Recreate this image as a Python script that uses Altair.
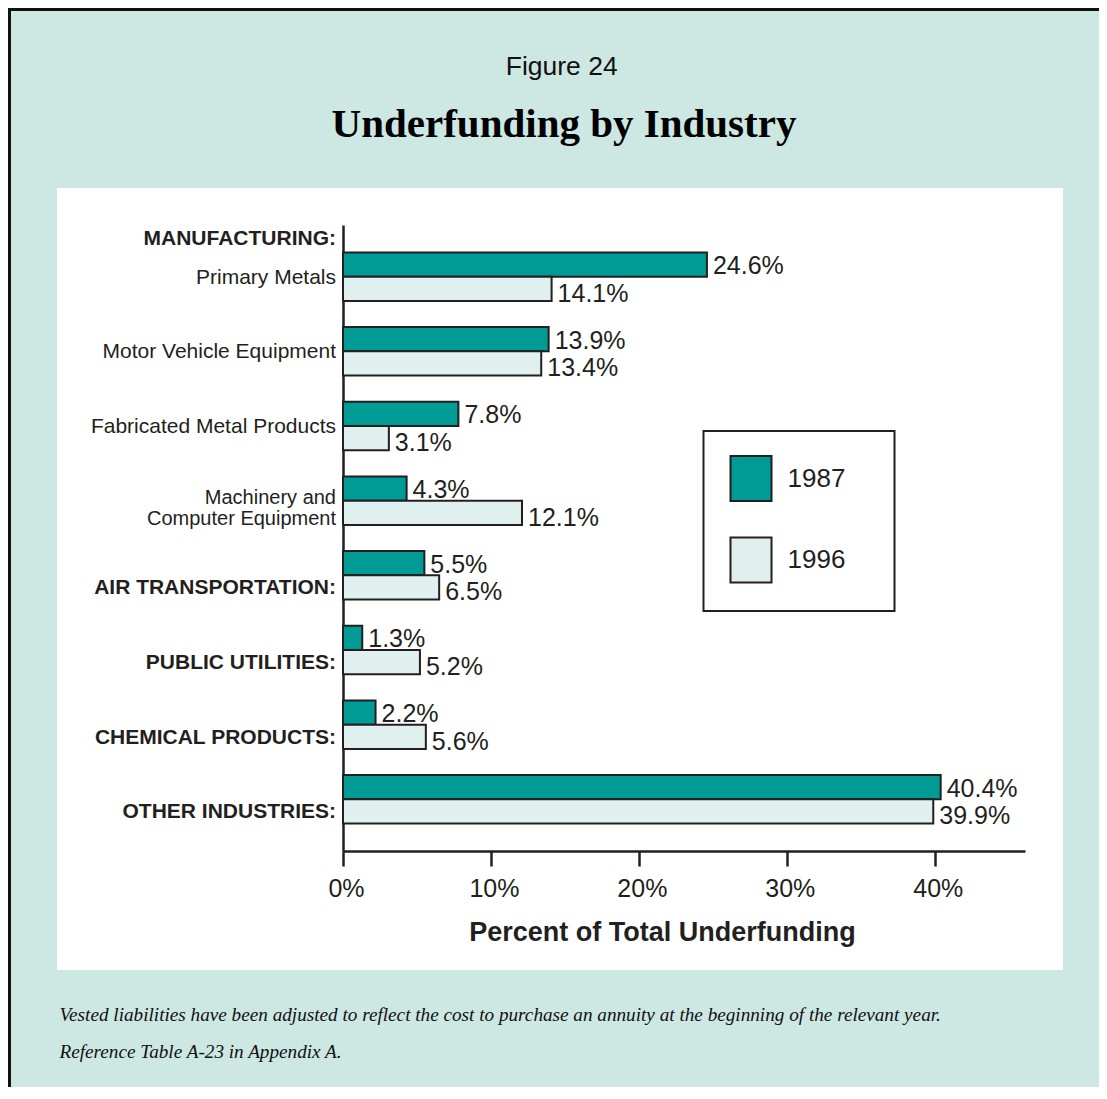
import altair as alt
import pandas as pd

# ---------------- data ----------------
industries = [
    "Primary Metals",
    "Motor Vehicle Equipment",
    "Fabricated Metal Products",
    "Machinery and Computer Equipment",
    "AIR TRANSPORTATION:",
    "PUBLIC UTILITIES:",
    "CHEMICAL PRODUCTS:",
    "OTHER INDUSTRIES:",
]
industry_labels = [
    "Primary Metals",
    "Motor Vehicle Equipment",
    "Fabricated Metal Products",
    "Machinery and\nComputer Equipment",
    "AIR TRANSPORTATION:",
    "PUBLIC UTILITIES:",
    "CHEMICAL PRODUCTS:",
    "OTHER INDUSTRIES:",
]
label_kind = ["sub", "sub", "sub", "sub2", "major", "major", "major", "major"]
group_header = "MANUFACTURING:"
years = ["1987", "1996"]
values_1987 = [24.6, 13.9, 7.8, 4.3, 5.5, 1.3, 2.2, 40.4]
values_1996 = [14.1, 13.4, 3.1, 12.1, 6.5, 5.2, 5.6, 39.9]
x_ticks = [0, 10, 20, 30, 40]
x_max = 46.1
figure_label = "Figure 24"
chart_title = "Underfunding by Industry"
x_title = "Percent of Total Underfunding"
footer_lines = [
    "Vested liabilities have been adjusted to reflect the cost to purchase an annuity at the beginning of the relevant year.",
    "Reference Table A-23 in Appendix A.",
]

# ---------------- styles ----------------
TEAL = "#009b94"
LIGHT = "#e0f0ef"
BG = "#cde7e3"
TXT = "#231f20"
SANS = "Liberation Sans, Arial, Helvetica, sans-serif"
SERIF = "Liberation Serif, Times New Roman, serif"

rows = []
for ind, v87, v96 in zip(industries, values_1987, values_1996):
    rows.append({"industry": ind, "year": years[0], "value": v87})
    rows.append({"industry": ind, "year": years[1], "value": v96})
bars_df = pd.DataFrame(rows)

labels_df = pd.DataFrame({"industry": industries, "label": industry_labels, "kind": label_kind})
header_df = pd.DataFrame({"industry": [industries[0]], "label": [group_header]})

y_enc = alt.Y(
    "industry:N",
    scale=alt.Scale(domain=industries, range=[37, 663], paddingInner=0.35, paddingOuter=0.367),
    axis=alt.Axis(orient="left", offset=-286, labels=False, ticks=False, title="",
                  domainWidth=2.5, domainColor=TXT, grid=False),
)
x_enc = alt.X(
    "value:Q",
    scale=alt.Scale(domain=[0, x_max], range=[286, 968], nice=False),
    axis=alt.Axis(
        orient="bottom", offset=-119, values=x_ticks, labelExpr="datum.value + '%'",
        tickSize=15, tickWidth=2.5, tickColor=TXT, domainWidth=2.5, domainColor=TXT,
        labelFontSize=25, labelFont=SANS, labelColor=TXT, labelPadding=10, labelOffset=3,
        labelFlush=False, grid=False, title=x_title, titleFontSize=27, titleFont=SANS,
        titleFontWeight="bold", titleColor=TXT, titleX=605, titleY=89,
        titleBaseline="alphabetic", titleAlign="center",
    ),
)
yoff_enc = alt.YOffset("year:N", scale=alt.Scale(domain=years, paddingInner=0, paddingOuter=0))

bars = alt.Chart(bars_df).mark_bar(stroke=TXT, strokeWidth=2).encode(
    x=x_enc,
    y=y_enc,
    yOffset=yoff_enc,
    color=alt.Color(
        "year:N",
        scale=alt.Scale(domain=years, range=[TEAL, LIGHT]),
        legend=alt.Legend(
            title="MM", titleOrient="right", titleColor="rgba(0,0,0,0)", titleFontSize=13,
            titleFont=SANS, titleFontWeight="bold", titlePadding=3,
            orient="none", legendX=646.5, legendY=243, padding=24,
            symbolType="M-0.911,-1H0.911V1H-0.911Z", symbolSize=2025,
            symbolStrokeColor=TXT, symbolStrokeWidth=2,
            labelFontSize=26, labelFont=SANS, labelColor=TXT, labelOffset=13,
            rowPadding=28.4, strokeColor=TXT, fillColor="white",
        ),
    ),
)

value_base = alt.Chart(bars_df).transform_calculate(
    label="format(datum.value, '.1f') + '%'"
)
values_87 = value_base.transform_filter(f"datum.year == '{years[0]}'").mark_text(
    align="left", baseline="middle", dx=6, dy=1.5, fontSize=25, font=SANS, color=TXT
).encode(x=x_enc, y=y_enc, yOffset=yoff_enc, text="label:N")
values_96 = value_base.transform_filter(f"datum.year == '{years[1]}'").mark_text(
    align="left", baseline="middle", dx=6, dy=5, fontSize=25, font=SANS, color=TXT
).encode(x=x_enc, y=y_enc, yOffset=yoff_enc, text="label:N")

major = alt.Chart(labels_df).transform_filter("datum.kind == 'major'").mark_text(
    align="right", baseline="middle", dx=-7, dy=1, fontSize=21, fontWeight="bold", font=SANS, color=TXT
).encode(x=alt.datum(0), y=y_enc, yOffset=alt.datum(years[1]), text="label:N")

sub = alt.Chart(labels_df).transform_filter("datum.kind == 'sub'").mark_text(
    align="right", baseline="middle", dx=-7, dy=1, fontSize=21, font=SANS, color=TXT
).encode(x=alt.datum(0), y=y_enc, text="label:N")

sub2 = alt.Chart(labels_df).transform_filter("datum.kind == 'sub2'").mark_text(
    align="right", baseline="middle", dx=-7, dy=-2.5, fontSize=20, font=SANS, color=TXT,
    lineBreak="\n", lineHeight=21,
).encode(x=alt.datum(0), y=y_enc, text="label:N")

header = alt.Chart(header_df).mark_text(
    align="right", baseline="middle", dx=-7, dy=-37.5, fontSize=21, fontWeight="bold", font=SANS, color=TXT
).encode(x=alt.datum(0), y=y_enc, text="label:N")

one = pd.DataFrame({"t": [figure_label], "s": [chart_title], "f": ["\n".join(footer_lines)]})

fig_label = alt.Chart(one).mark_text(
    align="center", baseline="alphabetic", fontSize=26.5, font=SANS, color="#111111"
).encode(x=alt.value(504.7), y=alt.value(-113), text="t:N")

title_txt = alt.Chart(one).mark_text(
    align="center", baseline="alphabetic", fontSize=41, font=SERIF, fontWeight="bold", color="#000000"
).encode(x=alt.value(507), y=alt.value(-51.3), text="s:N")

footer = alt.Chart(one).mark_text(
    align="left", baseline="alphabetic", fontSize=19.2, font=SERIF, fontStyle="italic", color="#111111",
    lineBreak="\n", lineHeight=37.6,
).encode(x=alt.value(2.5), y=alt.value(832.7), text="f:N")

frame = alt.Chart(one).mark_rect(filled=False, stroke="#111111", strokeWidth=3).encode(
    x=alt.value(-47.5), x2=alt.value(1200), y=alt.value(-178.5), y2=alt.value(1100)
)

chart = alt.layer(
    bars, values_87, values_96, major, sub, sub2, header, fig_label, title_txt, footer, frame
).properties(
    width=1006,
    height=782,
    autosize=alt.AutoSizeParams(type="none"),
    padding={"left": 49, "top": 180, "right": 36, "bottom": 117},
    background=BG,
).configure_view(fill="white", strokeWidth=0).configure_legend(strokeWidth=2)

chart.save("out.html", embed_options={"renderer": "svg", "actions": False})
